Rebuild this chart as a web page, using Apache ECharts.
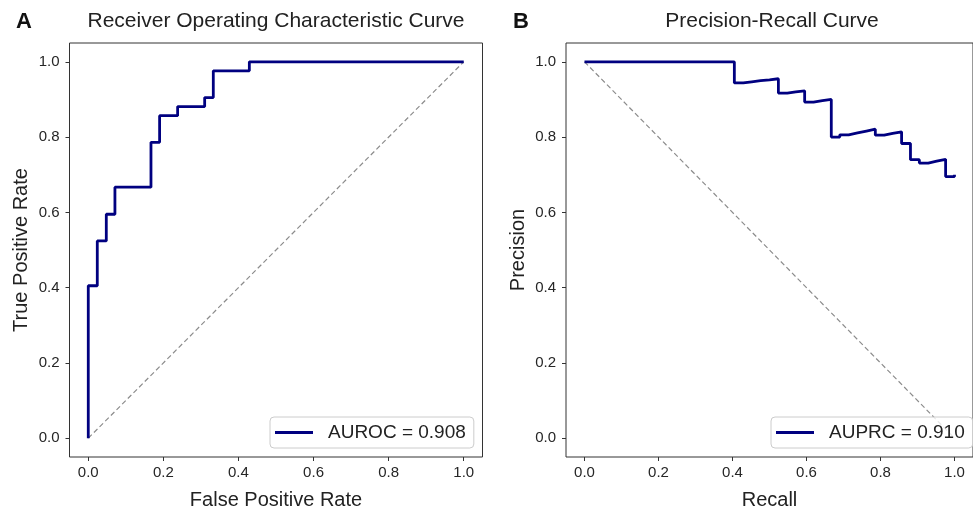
<!DOCTYPE html>
<html>
<head>
<meta charset="utf-8">
<script src="https://cdn.jsdelivr.net/npm/echarts@6/dist/echarts.min.js"></script>
<style>
html,body{margin:0;padding:0;background:#fff;}
#chart{width:973px;height:515px;}
</style>
</head>
<body>
<div id="chart"></div>
<script>
// ROC curve vertices (false positive rate, true positive rate)
const rocFpr = [0.000, 0.000, 0.024, 0.024, 0.048, 0.048, 0.071, 0.071, 0.167, 0.167, 0.190, 0.190, 0.238, 0.238, 0.310, 0.310, 0.333, 0.333, 0.429, 0.429, 1.000];
const rocTpr = [0.000, 0.405, 0.405, 0.524, 0.524, 0.595, 0.595, 0.667, 0.667, 0.786, 0.786, 0.857, 0.857, 0.881, 0.881, 0.905, 0.905, 0.976, 0.976, 1.000, 1.000];

// Precision-recall points (recall, precision)
const prRecall = [0.000, 0.405, 0.405, 0.429, 0.452, 0.476, 0.500, 0.524, 0.524, 0.548, 0.571, 0.595, 0.595, 0.619, 0.643, 0.667, 0.667, 0.667, 0.667, 0.667, 0.690, 0.714, 0.738, 0.762, 0.786, 0.786, 0.810, 0.833, 0.857, 0.857, 0.857, 0.881, 0.881, 0.881, 0.881, 0.905, 0.905, 0.929, 0.952, 0.976, 0.976, 0.976, 0.976, 0.976, 1.000];
const prPrecision = [1.000, 1.000, 0.944, 0.947, 0.950, 0.952, 0.955, 0.957, 0.917, 0.920, 0.923, 0.926, 0.893, 0.897, 0.900, 0.903, 0.875, 0.848, 0.824, 0.800, 0.806, 0.811, 0.816, 0.821, 0.825, 0.805, 0.810, 0.814, 0.818, 0.800, 0.783, 0.787, 0.771, 0.755, 0.740, 0.745, 0.731, 0.736, 0.741, 0.745, 0.732, 0.719, 0.707, 0.695, 0.700];

// Reference diagonals
const rocChanceX = [0, 1];
const rocChanceY = [0, 1];
const prChanceX = [0, 1];
const prChanceY = [1, 0];

const tickValues = [0.0, 0.2, 0.4, 0.6, 0.8, 1.0];

const rocLabel = 'AUROC = 0.908';
const prLabel = 'AUPRC = 0.910';

const textColor = '#222';
const navy = '#000080';
const FONT = 'Liberation Sans, Arial, sans-serif';

function pairs(xs, ys) { return xs.map((x, i) => [x, ys[i]]); }

function axis(gridIndex, name, nameGap, isY) {
  return {
    type: 'value', gridIndex: gridIndex, min: -0.05, max: 1.05,
    name: name, nameLocation: 'middle', nameGap: nameGap,
    nameTextStyle: {fontSize: 20, fontFamily: FONT, color: textColor},
    splitLine: {show: false},
    axisLine: {show: false, onZero: false},
    axisTick: {show: true, customValues: tickValues, length: 4, lineStyle: {color: '#333', width: 1}},
    axisLabel: {customValues: tickValues, formatter: v => v.toFixed(1), fontSize: 15,
      fontFamily: FONT, color: '#262626', margin: isY ? 10 : 8}
  };
}

const legendCommon = {
  orient: 'horizontal', icon: 'rect', itemWidth: 38, itemHeight: 2.8,
  padding: [6, 8, 6, 5], borderColor: '#cccccc', borderWidth: 1, borderRadius: 4,
  backgroundColor: 'rgba(255,255,255,0.8)',
  textStyle: {fontSize: 19, fontFamily: FONT, color: textColor, padding: [0, 0, 0, 10]},
  selectedMode: false
};

const titleStyle = {fontSize: 21, fontWeight: 'normal', fontFamily: FONT, color: textColor};
const letterStyle = {fontSize: 22, fontWeight: 'bold', fontFamily: FONT, color: '#111'};

const chart = echarts.init(document.getElementById('chart'), null, {renderer: 'canvas'});
chart.setOption({
  animation: false,
  backgroundColor: '#fff',
  title: [
    {text: 'A', left: 16, top: 11, padding: 0, textStyle: letterStyle},
    {text: 'Receiver Operating Characteristic Curve', left: 276, top: 11, padding: 0, textAlign: 'center', textStyle: titleStyle},
    {text: 'B', left: 513, top: 11, padding: 0, textStyle: letterStyle},
    {text: 'Precision-Recall Curve', left: 772, top: 11, padding: 0, textAlign: 'center', textStyle: titleStyle}
  ],
  grid: [
    {left: 69.5, top: 43, width: 413, height: 415, show: true, borderColor: '#333', borderWidth: 1, backgroundColor: 'transparent', containLabel: false},
    {left: 566, top: 43, width: 412.5, height: 415, show: true, borderColor: '#333', borderWidth: 1, backgroundColor: 'transparent', containLabel: false}
  ],
  xAxis: [axis(0, 'False Positive Rate', 33, false), axis(1, 'Recall', 33, false)],
  yAxis: [axis(0, 'True Positive Rate', 38, true), axis(1, 'Precision', 38, true)],
  legend: [
    Object.assign({}, legendCommon, {data: [rocLabel], left: 270, top: 417}),
    Object.assign({}, legendCommon, {data: [prLabel], left: 771, top: 417})
  ],
  series: [
    {type: 'line', name: 'roc-chance', xAxisIndex: 0, yAxisIndex: 0, data: pairs(rocChanceX, rocChanceY),
      symbol: 'none', lineStyle: {color: '#8c8c8c', width: 1.2, type: [5, 3]}, z: 2, silent: true},
    {type: 'line', name: rocLabel, xAxisIndex: 0, yAxisIndex: 0, data: pairs(rocFpr, rocTpr),
      symbol: 'none', lineStyle: {color: navy, width: 2.8}, itemStyle: {color: navy}, z: 3},
    {type: 'line', name: 'pr-chance', xAxisIndex: 1, yAxisIndex: 1, data: pairs(prChanceX, prChanceY),
      symbol: 'none', lineStyle: {color: '#8c8c8c', width: 1.2, type: [5, 3]}, z: 2, silent: true},
    {type: 'line', name: prLabel, xAxisIndex: 1, yAxisIndex: 1, data: pairs(prRecall, prPrecision),
      step: 'end', symbol: 'none', lineStyle: {color: navy, width: 2.8}, itemStyle: {color: navy}, z: 3}
  ]
});
</script>
</body>
</html>
